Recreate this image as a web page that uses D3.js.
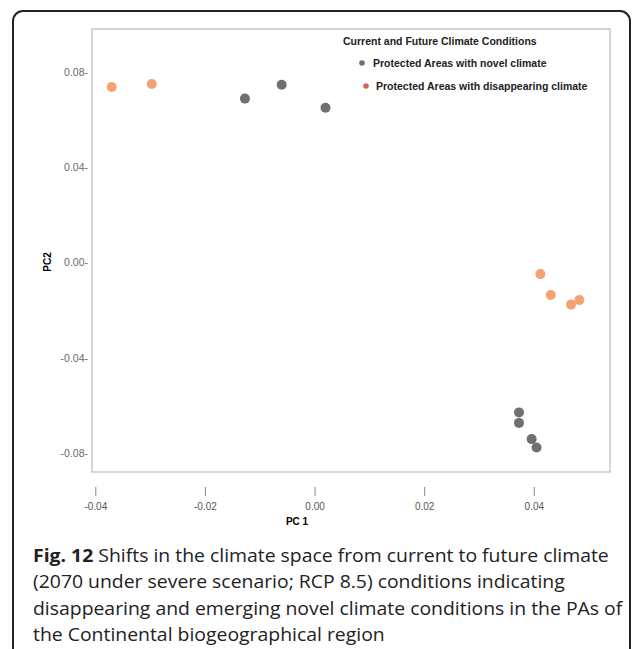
<!DOCTYPE html>
<html>
<head>
<meta charset="utf-8">
<script src="https://cdn.jsdelivr.net/npm/d3@7"></script>
<style>
  body { margin: 0; background: #fff; }
  svg { display: block; }
</style>
</head>
<body>
<div id="chart"></div>
<script>
// PCA scores: [PC1, PC2]
var novelPoints = [
	[-0.0127, 0.0687],
	[-0.0060, 0.0745],
	[0.0020, 0.0649],
	[0.0373, -0.0629],
	[0.0373, -0.0673],
	[0.0396, -0.0741],
	[0.0405, -0.0776]
];
var disappearingPoints = [
	[-0.0370, 0.0736],
	[-0.0297, 0.0748],
	[0.0412, -0.0049],
	[0.0431, -0.0137],
	[0.0468, -0.0177],
	[0.0483, -0.0158]
];
var xTicks = [-0.04, -0.02, 0.00, 0.02, 0.04];
var yTicks = [0.08, 0.04, 0.00, -0.04, -0.08];
var legendTitle = "Current and Future Climate Conditions";
var legendLabels = ["Protected Areas with novel climate", "Protected Areas with disappearing climate"];
var captionLines = [
	"Shifts in the climate space from current to future climate",
	"(2070 under severe scenario; RCP 8.5) conditions indicating",
	"disappearing and emerging novel climate conditions in the PAs of",
	"the Continental biogeographical region"
];

var width = 637, height = 649;
var frame = {left: 92, right: 610, top: 29, bottom: 472};

var svg = d3.select("#chart").append("svg")
	.attr("width", width)
	.attr("height", height);

// outer rounded box of the figure panel
svg.append("rect")
	.attr("x", 13).attr("y", 11)
	.attr("width", 617).attr("height", 660)
	.attr("rx", 10)
	.attr("fill", "none")
	.attr("stroke", "#222")
	.attr("stroke-width", 2);

//scales were fitted so that the tick labels fall roughly where the original put them
var x = d3.scaleLinear().domain([-0.0406, 0.0539]).range([frame.left, frame.right]);
var y = d3.scaleLinear().domain([0.0979, -0.0879]).range([frame.top, frame.bottom]);

svg.append("rect")
	.attr("x", frame.left).attr("y", frame.top)
	.attr("width", frame.right - frame.left)
	.attr("height", frame.bottom - frame.top)
	.attr("fill", "none")
	.attr("stroke", "#c8c8c8")
	.attr("stroke-width", 1.5);

var tickFont = "'Liberation Sans', Arial, sans-serif";
var fmt = function(d){ return d3.format(".2f")(d).replace("\u2212", "-"); };

// y axis: labels only, with the little dash after the number
var yAxis = svg.append("g")
	.attr("transform", "translate(" + (frame.left - 4) + ",0)")
	.call(d3.axisLeft(y).tickValues(yTicks).tickSize(0).tickPadding(0)
		.tickFormat(function(d){ return fmt(d) + "-"; }));
yAxis.select(".domain").remove();
yAxis.selectAll("text")
	.attr("fill", "#6a6a6a")
	.style("font-family", tickFont)
	.style("font-size", "10.5px");

// x axis: detached short tick marks under the frame
var xAxis = svg.append("g")
	.attr("transform", "translate(0," + (frame.bottom + 15) + ")")
	.call(d3.axisBottom(x).tickValues(xTicks).tickSize(9).tickPadding(7)
		.tickFormat(fmt));
xAxis.select(".domain").remove();
xAxis.selectAll("line").attr("stroke", "#888");
xAxis.selectAll("text")
	.attr("fill", "#555")
	.style("font-family", tickFont)
	.style("font-size", "10px");

svg.append("text")
	.attr("x", 297).attr("y", 525)
	.attr("text-anchor", "middle")
	.style("font-family", "'Liberation Sans', Arial, sans-serif")
	.style("font-weight", "bold")
	.style("font-size", "10px")
	.text("PC 1");

svg.append("text")
	.attr("transform", "translate(51,262) rotate(-90)")
	.attr("text-anchor", "middle")
	.style("font-family", "'Liberation Sans', Arial, sans-serif")
	.style("font-weight", "bold")
	.style("font-size", "10px")
	.text("PC2");

var colors = {novel: "#707070", disappearing: "#f3a272", legendRed: "#d2625c"};

svg.append("g").selectAll("circle")
	.data(novelPoints)
	.enter().append("circle")
	.attr("cx", function(d){ return x(d[0]); })
	.attr("cy", function(d){ return y(d[1]); })
	.attr("r", 5)
	.attr("fill", colors.novel);

svg.append("g").selectAll("circle")
	.data(disappearingPoints)
	.enter().append("circle")
	.attr("cx", function(d){ return x(d[0]); })
	.attr("cy", function(d){ return y(d[1]); })
	.attr("r", 5)
	.attr("fill", colors.disappearing);

// legend in the top right corner
var legend = svg.append("g")
	.style("font-family", "'Liberation Sans', Arial, sans-serif")
	.style("font-weight", "bold")
	.style("font-size", "10.5px")
	.attr("fill", "#222");

legend.append("text")
	.attr("x", 343).attr("y", 45)
	.text(legendTitle);

var legendRows = [
	{label: legendLabels[0], color: colors.novel, cx: 362, tx: 373, cy: 63},
	{label: legendLabels[1], color: colors.legendRed, cx: 366, tx: 376, cy: 86}
];
legendRows.forEach(function(row){
	legend.append("circle")
		.attr("cx", row.cx).attr("cy", row.cy)
		.attr("r", 2.8)
		.attr("fill", row.color);
	legend.append("text")
		.attr("x", row.tx).attr("y", row.cy + 4)
		.text(row.label);
});

// figure caption; the original face is condensed, so squeeze the whole block
// horizontally until the longest line ends where it does in the original
var caption = svg.append("g")
	.style("font-family", "'Open Sans', 'Noto Sans', sans-serif")
	.style("font-size", "18.5px")
	.attr("fill", "#222");

var captionTexts = [];
captionLines.forEach(function(line, i){
	var t = caption.append("text")
		.attr("x", 0)
		.attr("y", 562 + i * 26.5);
	if(i === 0){
		t.append("tspan").style("font-weight", "bold").text("Fig. 12");
		t.append("tspan").text(" " + line);
	} else {
		t.text(line);
	}
	captionTexts.push(t);
});
var longest = captionTexts[2].node().getComputedTextLength();
var squeeze = 590 / longest;
caption.attr("transform", "translate(33,0) scale(" + squeeze + ",1)");
</script>
</body>
</html>
